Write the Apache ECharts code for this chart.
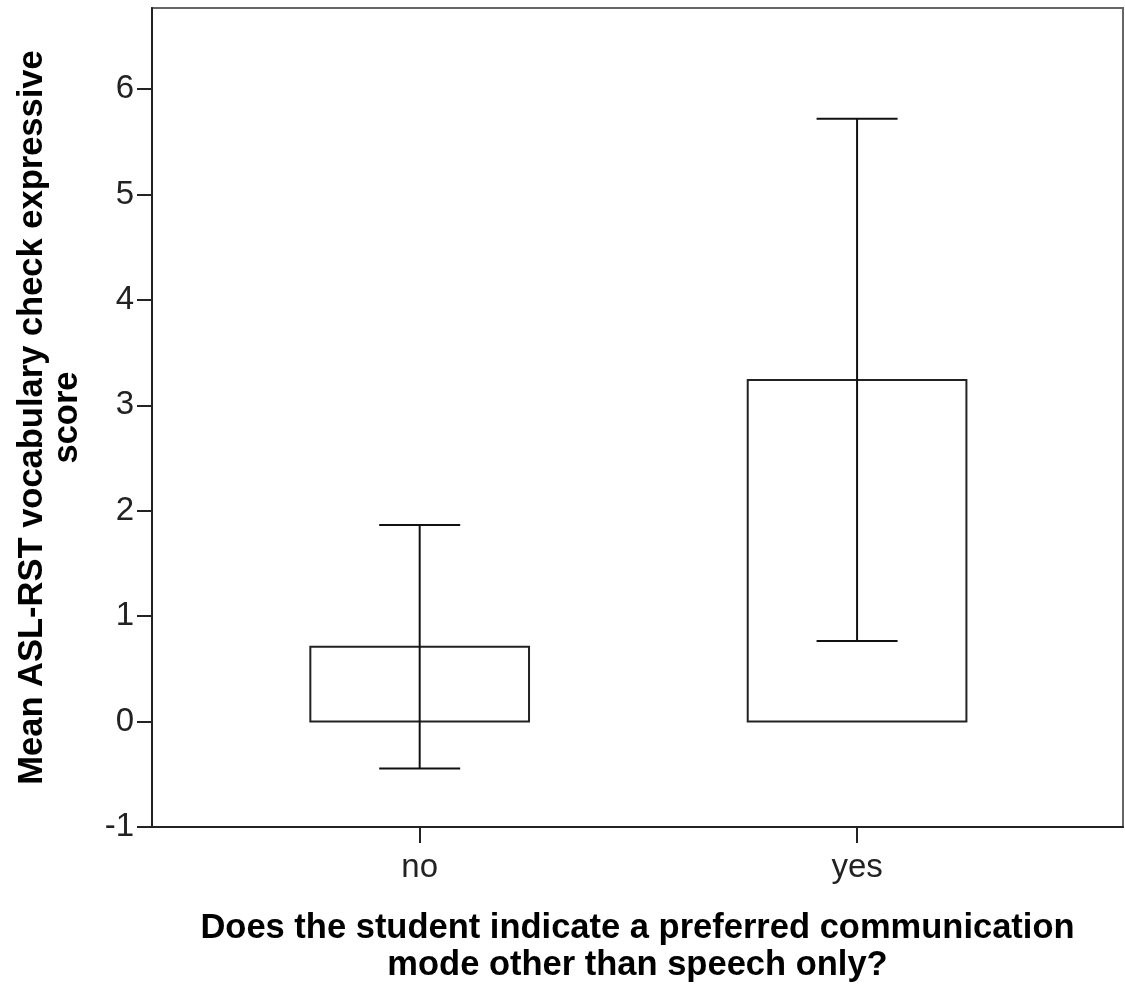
<!DOCTYPE html>
<html>
<head>
<meta charset="utf-8">
<script src="https://cdn.jsdelivr.net/npm/echarts@6/dist/echarts.min.js"></script>
<style>
html,body{margin:0;padding:0;background:#fff;}
#chart{width:1125px;height:989px;}
</style>
</head>
<body>
<div id="chart"></div>
<script>
// Data
const categories = ['no', 'yes'];
const means = [0.71, 3.24];
const ciLower = [-0.445, 0.765];
const ciUpper = [1.865, 5.72];
const yTicks = [-1, 0, 1, 2, 3, 4, 5, 6];
const xTitle = 'Does the student indicate a preferred communication\nmode other than speech only?';
const yTitle = 'Mean ASL-RST vocabulary check expressive\nscore';

const BAR_HALF = 0.25;
const CAP_HALF = 0.0926;

const seriesData = categories.map((c, i) => [i, means[i], ciLower[i], ciUpper[i]]);

const chart = echarts.init(document.getElementById('chart'), null, {renderer: 'canvas'});
const FONT = 'Liberation Sans, Arial, sans-serif';

chart.setOption({
  animation: false,
  backgroundColor: '#ffffff',
  grid: {
    left: 152, right: 2, top: 8, bottom: 154,
    show: true, borderColor: '#666', borderWidth: 2, backgroundColor: '#fff'
  },
  xAxis: {
    type: 'value',
    min: -0.612,
    max: 1.608,
    name: xTitle,
    nameLocation: 'middle',
    nameGap: 83,
    nameTextStyle: {fontFamily: FONT, fontSize: 34.5, fontWeight: 'bold', color: '#000', lineHeight: 37},
    splitLine: {show: false},
    axisLine: {show: true, onZero: false, lineStyle: {color: '#222', width: 2}},
    axisTick: {show: true, inside: false, length: 16, customValues: categories.map((c, i) => i), lineStyle: {color: '#222', width: 2}},
    axisLabel: {
      show: true, margin: 24, customValues: categories.map((c, i) => i),
      formatter: v => categories[Math.round(v)] || '',
      fontFamily: FONT, fontSize: 33, color: '#222'
    }
  },
  yAxis: {
    type: 'value',
    min: -1,
    max: 6.77,
    interval: 1,
    name: yTitle,
    nameLocation: 'middle',
    nameGap: 67,
    nameTextStyle: {fontFamily: FONT, fontSize: 34.5, fontWeight: 'bold', color: '#000', lineHeight: 35},
    splitLine: {show: false},
    axisLine: {show: true, onZero: false, lineStyle: {color: '#222', width: 2}},
    axisTick: {show: true, inside: false, length: 15, customValues: yTicks, lineStyle: {color: '#222', width: 2}},
    axisLabel: {
      show: true, margin: 18, customValues: yTicks, padding: [7, 0, 0, 0],
      fontFamily: FONT, fontSize: 33, color: '#222'
    }
  },
  series: [{
    type: 'custom',
    data: seriesData,
    encode: {x: 0, y: [1, 2, 3]},
    renderItem: function (params, api) {
      const x = api.value(0), m = api.value(1), lo = api.value(2), hi = api.value(3);
      const p0 = api.coord([x - BAR_HALF, 0]);
      const p1 = api.coord([x + BAR_HALF, m]);
      const pLo = api.coord([x, lo]);
      const pHi = api.coord([x, hi]);
      const capL = api.coord([x - CAP_HALF, hi])[0];
      const capR = api.coord([x + CAP_HALF, hi])[0];
      const lineStyle = {stroke: '#111', lineWidth: 2};
      return {
        type: 'group',
        children: [
          {type: 'rect', shape: {x: p0[0], y: p1[1], width: p1[0] - p0[0], height: p0[1] - p1[1]},
           style: {fill: '#fff', stroke: '#222', lineWidth: 2}},
          {type: 'line', shape: {x1: pLo[0], y1: pLo[1], x2: pHi[0], y2: pHi[1]}, style: lineStyle},
          {type: 'line', shape: {x1: capL, y1: pHi[1], x2: capR, y2: pHi[1]}, style: lineStyle},
          {type: 'line', shape: {x1: capL, y1: pLo[1], x2: capR, y2: pLo[1]}, style: lineStyle}
        ]
      };
    }
  }]
});
</script>
</body>
</html>
